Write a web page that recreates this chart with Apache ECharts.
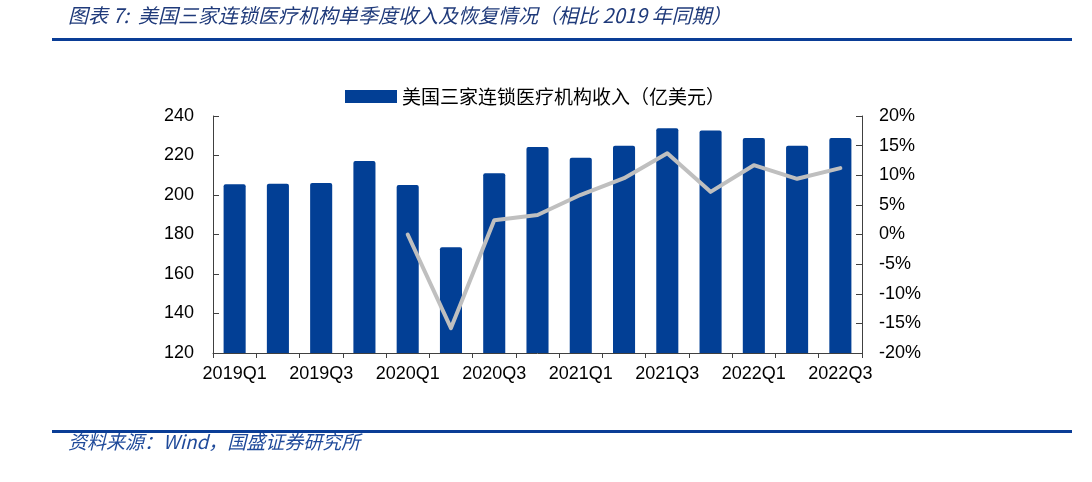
<!DOCTYPE html>
<html>
<head>
<meta charset="utf-8">
<script src="https://cdn.jsdelivr.net/npm/echarts@6/dist/echarts.min.js"></script>
<style>html,body{margin:0;padding:0;background:#fff;}#c{width:1092px;height:482px;}</style>
</head>
<body>
<div id="c"></div>
<script>
const categories = ['2019Q1','2019Q2','2019Q3','2019Q4','2020Q1','2020Q2','2020Q3','2020Q4','2021Q1','2021Q2','2021Q3','2021Q4','2022Q1','2022Q2','2022Q3'];
const revenue = [205.5, 205.7, 206.1, 217.2, 205.1, 173.6, 211.0, 224.3, 218.8, 225.0, 233.8, 232.6, 228.9, 225.0, 228.9];
const recovery = [null, null, null, null, 0.0, -15.8, 2.4, 3.3, 6.7, 9.5, 13.7, 7.2, 11.7, 9.4, 11.2];
const leftTicks = {min: 120, max: 240, interval: 20};
const rightTicks = {min: -20, max: 20, interval: 5};
const titleText = '图表 7:  美国三家连锁医疗机构单季度收入及恢复情况（相比 2019 年同期）';
const sourceText = '资料来源：Wind，国盛证券研究所';
const seriesName = '美国三家连锁医疗机构收入（亿美元）';

const chart = echarts.init(document.getElementById('c'), null, {renderer: 'canvas'});
const axisColor = '#404040';
const labelFont = {fontFamily: 'Liberation Sans, Arial, sans-serif', fontSize: 18, color: '#000'};
chart.setOption({
  animation: false,
  backgroundColor: '#fff',
  graphic: [
    {type: 'text', left: 68, top: 5, style: {text: titleText, font: 'italic 20px "Noto Sans CJK SC", sans-serif', fill: '#1F3A7A'}},
    {type: 'rect', shape: {x: 52, y: 38, width: 1020, height: 3}, style: {fill: '#0A3D96'}},
    {type: 'rect', shape: {x: 52, y: 430, width: 1020, height: 3}, style: {fill: '#0A3D96'}},
    {type: 'text', left: 68, top: 432, style: {text: sourceText, font: 'italic 19px "Noto Sans CJK SC", sans-serif', fill: '#1F4A9A'}}
  ],
  legend: {
    data: [seriesName],
    left: 340, top: 82,
    itemWidth: 52, itemHeight: 13, itemGap: 10,
    icon: 'rect',
    textStyle: {fontFamily: '"Noto Sans CJK SC", sans-serif', fontSize: 19, color: '#000'}
  },
  grid: {left: 213, right: 230, top: 116, bottom: 129, containLabel: false},
  xAxis: {
    type: 'category',
    data: categories,
    boundaryGap: true,
    axisLine: {onZero: false, lineStyle: {color: axisColor, width: 1}},
    axisTick: {show: true, alignWithLabel: false, interval: 0, length: 5, lineStyle: {color: axisColor}},
    axisLabel: Object.assign({interval: 1, margin: 12}, labelFont)
  },
  yAxis: [
    {
      type: 'value', min: leftTicks.min, max: leftTicks.max, interval: leftTicks.interval,
      axisLine: {show: true, lineStyle: {color: axisColor}},
      axisTick: {show: true, inside: true, length: 6, lineStyle: {color: axisColor}},
      splitLine: {show: false},
      axisLabel: Object.assign({margin: 19}, labelFont)
    },
    {
      type: 'value', min: rightTicks.min, max: rightTicks.max, interval: rightTicks.interval,
      position: 'right',
      axisLine: {show: true, lineStyle: {color: axisColor}},
      axisTick: {show: true, inside: true, length: 6, lineStyle: {color: axisColor}},
      splitLine: {show: false},
      axisLabel: Object.assign({margin: 17, formatter: '{value}%'}, labelFont)
    }
  ],
  series: [
    {
      name: seriesName, type: 'bar', data: revenue, yAxisIndex: 0,
      barWidth: '51%',
      itemStyle: {color: '#023F95', borderRadius: [2, 2, 0, 0]}
    },
    {
      name: '恢复情况', type: 'line', data: recovery, yAxisIndex: 1,
      symbol: 'none', connectNulls: false,
      lineStyle: {color: '#BFBFBF', width: 4, cap: 'round', join: 'round'},
      itemStyle: {color: '#BFBFBF'}
    }
  ]
});
</script>
</body>
</html>
